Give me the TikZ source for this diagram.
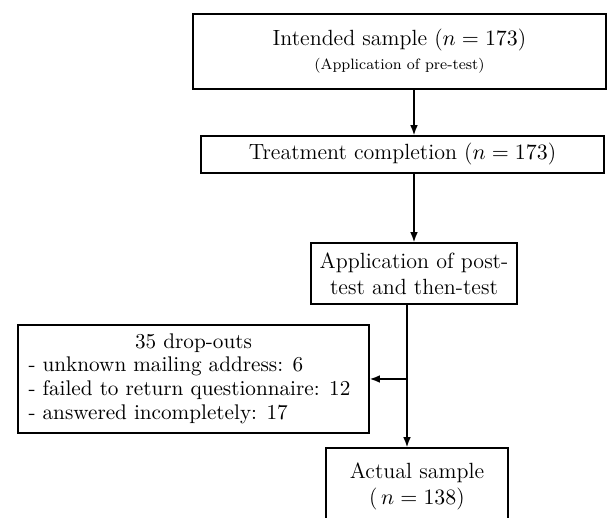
\documentclass[tikz,border=0pt]{standalone}
\usetikzlibrary{positioning, arrows.meta, calc}

\begin{document}
\begin{tikzpicture}[
	x=0.5pt, y=-0.5pt,
	font=\fontsize{11}{13}\selectfont,
	box/.style={rectangle, draw=black, line width=0.75pt, align=center, inner sep=2pt},
	flow/.style={-{Latex[length=5pt, width=3.8pt]}, draw=black, line width=0.8pt},
	]

\useasboundingbox (0,0) rectangle (607,518);

% Main chain
\node[box, minimum width=206.5pt, minimum height=37.5pt] (intended) at (399.5,51.5)
	{Intended sample ($n = 173$)\\[-1pt] {\fontsize{7.5}{9}\selectfont (Application of pre-test)}};
\node[box, minimum width=201.5pt, minimum height=18.5pt] (treatment) at (402.5,154.5)
	{Treatment completion ($n = 173$)};
\node[box, minimum width=103pt, minimum height=30.5pt] (post) at (414,273.5)
	{Application of post-\\test and then-test};
\node[box, minimum width=91pt, minimum height=38.5pt] (actual) at (417,486.5)
	{Actual sample\\(\,$n = 138$)};

% Drop-outs
\node[box, minimum width=175.5pt, minimum height=54pt, inner sep=0pt,
      font=\fontsize{10.6}{11.8}\selectfont] (dropouts) at (193.5,379)
	{\begin{tabular}{@{}p{165pt}@{}}
	 \multicolumn{1}{@{}c@{}}{35 drop-outs}\\
	 - unknown mailing address: 6\\
	 - failed to return questionnaire: 12\\
	 - answered incompletely: 17
	 \end{tabular}};

\coordinate (split) at ([xshift=-3.5pt]post.south);

\draw[flow] (intended.south -| post.north) -- (treatment.north -| post.north);
\draw[flow] (treatment.south -| post.north) -- (post.north);
\draw[flow] (split) -- (split |- actual.north);
\draw[flow] (split |- dropouts.east) -- (dropouts.east);

\end{tikzpicture}
\end{document}
